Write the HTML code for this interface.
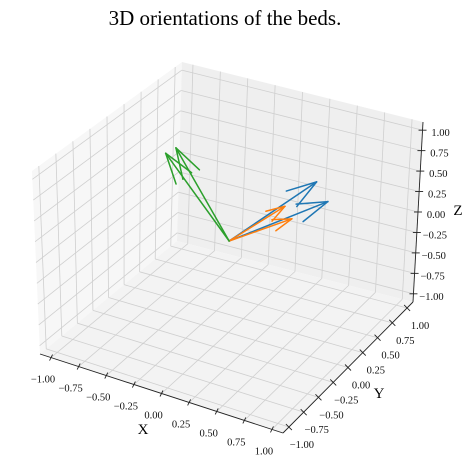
<!DOCTYPE html>
<html><head><meta charset="utf-8"><style>
html,body{margin:0;padding:0;background:#fff;}
svg{display:block;font-family:"Liberation Serif",serif;}
</style></head><body>
<svg id="chart" width="470" height="470" viewBox="0 0 470 470" xmlns="http://www.w3.org/2000/svg">
<text x="225" y="25" text-anchor="middle" font-size="21" fill="#000">3D orientations of the beds.</text>
<g id="panes"></g>
<g id="grid"></g>
<g id="axes"></g>
<g id="arrows"></g>
</svg>
<script>
const seriesNames = ['blue', 'blue', 'orange', 'orange', 'green', 'green'];
const seriesColors = ['#1f77b4', '#1f77b4', '#ff7f0e', '#ff7f0e', '#2ca02c', '#2ca02c'];
const vecU = [0.67, 0.82, 0.65, 0.73, -0.48, -0.43];
const vecV = [0.19, 0.11, -0.27, -0.30, -0.16, -0.09];
const vecW = [0.83, 0.70, 0.83, 0.73, 0.98, 1.02];
const tickValues = [-1, -0.75, -0.5, -0.25, 0, 0.25, 0.5, 0.75, 1];
const tickLabels = ['\u22121.00', '\u22120.75', '\u22120.50', '\u22120.25', '0.00', '0.25', '0.50', '0.75', '1.00'];

const L = 1.1;
const C = {
  '000': [40, 354], '100': [283, 433], '110': [413, 302], '010': [177, 241],
  '001': [32, 171], '101': [283, 243], '111': [423, 122], '011': [182, 62]
};
function proj(x, y, z) {
  const u = (x + L) / (2 * L), v = (y + L) / (2 * L), w = (z + L) / (2 * L);
  let px = 0, py = 0;
  for (const a of [0, 1]) for (const b of [0, 1]) for (const c of [0, 1]) {
    const wt = (a ? u : 1 - u) * (b ? v : 1 - v) * (c ? w : 1 - w);
    const p = C['' + a + b + c];
    px += wt * p[0]; py += wt * p[1];
  }
  return [px, py];
}
const NS = 'http://www.w3.org/2000/svg';
function mk(tag, attrs, parent) {
  const e = document.createElementNS(NS, tag);
  for (const k in attrs) e.setAttribute(k, attrs[k]);
  parent.appendChild(e);
  return e;
}
function ptsStr(list) { return list.map(p => p[0].toFixed(1) + ',' + p[1].toFixed(1)).join(' '); }

const panes = document.getElementById('panes');
let pn;
pn = mk('polygon', {points: ptsStr([proj(-L,-L,-L), proj(-L,L,-L), proj(-L,L,L), proj(-L,-L,L)]), fill: '#f7f7f7'}, panes);


pn = mk('polygon', {points: ptsStr([proj(-L,L,-L), proj(L,L,-L), proj(L,L,L), proj(-L,L,L)]), fill: '#efefef'}, panes);


pn = mk('polygon', {points: ptsStr([proj(-L,-L,-L), proj(L,-L,-L), proj(L,L,-L), proj(-L,L,-L)]), fill: '#f3f3f3'}, panes);



const grid = document.getElementById('grid');
function gl(a, b, name) {
  const e = mk('line', {x1: a[0], y1: a[1], x2: b[0], y2: b[1], stroke: '#cfcfcf', 'stroke-width': 0.8}, grid);
  
  
}
tickValues.forEach(t => {
  gl(proj(t, -L, -L), proj(t, L, -L), 'floor-grid-x');
  gl(proj(-L, t, -L), proj(L, t, -L), 'floor-grid-y');
  gl(proj(-L, t, -L), proj(-L, t, L), 'left-grid-y');
  gl(proj(-L, -L, t), proj(-L, L, t), 'left-grid-z');
  gl(proj(t, L, -L), proj(t, L, L), 'back-grid-x');
  gl(proj(-L, L, t), proj(L, L, t), 'back-grid-z');
});

const axes = document.getElementById('axes');
function axLine(a, b, name) {
  const e = mk('line', {x1: a[0], y1: a[1], x2: b[0], y2: b[1], stroke: '#222', 'stroke-width': 0.9}, axes);
  
  
}
axLine(proj(-L, -L, -L), proj(L, -L, -L), 'x-axis-line');
axLine(proj(L, -L, -L), proj(L, L, -L), 'y-axis-line');
axLine(proj(L, L, -L), proj(L, L, L), 'z-axis-line');
function tick(p, d, lbl, off, name) {
  const e = mk('line', {x1: p[0] - d[0], y1: p[1] - d[1], x2: p[0] + d[0], y2: p[1] + d[1], stroke: '#222', 'stroke-width': 0.9}, axes);
  
  
  const t = mk('text', {x: p[0] + off[0], y: p[1] + off[1] + 4, 'font-size': 10.5, 'text-anchor': 'middle', fill: '#111'}, axes);
  t.textContent = lbl;
  
  
}
tickValues.forEach((v, i) => {
  tick(proj(v, -L, -L), [-1.5, 3], tickLabels[i], [-8, 21], 'x');
  tick(proj(L, v, -L), [3, 3], tickLabels[i], [13, 17], 'y');
  tick(proj(L, L, v), [4, 0], tickLabels[i], [18, 2], 'z');
});
let lab;
lab = mk('text', {x: 143, y: 434, 'font-size': 15, 'text-anchor': 'middle', fill: '#000'}, axes);
lab.textContent = 'X';


lab = mk('text', {x: 379, y: 398, 'font-size': 15, 'text-anchor': 'middle', fill: '#000'}, axes);
lab.textContent = 'Y';


lab = mk('text', {x: 458, y: 215, 'font-size': 15, 'text-anchor': 'middle', fill: '#000'}, axes);
lab.textContent = 'Z';



const arrows = document.getElementById('arrows');
const o = proj(0, 0, 0);
vecU.forEach((u, i) => {
  const tip = proj(u, vecV[i], vecW[i]);
  const dx = tip[0] - o[0], dy = tip[1] - o[1];
  const len = Math.hypot(dx, dy);
  const hl = 0.3 * len;
  const ang = Math.atan2(dy, dx);
  const g = mk('g', {stroke: seriesColors[i], 'stroke-width': 1.5, fill: 'none', 'stroke-linecap': 'round'}, arrows);
  
  
  mk('line', {x1: o[0], y1: o[1], x2: tip[0], y2: tip[1]}, g);
  [0.3, -0.3].forEach(a => {
    const bx = tip[0] - hl * Math.cos(ang + a), by = tip[1] - hl * Math.sin(ang + a);
    mk('line', {x1: tip[0], y1: tip[1], x2: bx, y2: by}, g);
  });
});
</script>
</body></html>
